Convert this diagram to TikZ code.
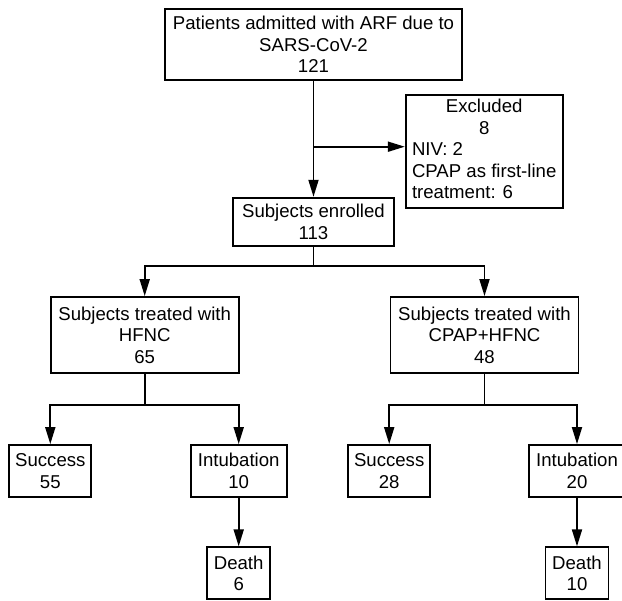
\documentclass[tikz,border=0pt]{standalone}
\usepackage{fontspec}
\setmainfont{Liberation Sans}
\usetikzlibrary{arrows.meta}

\begin{document}
\begin{tikzpicture}[x=1pt,y=-1pt,->,>={Triangle[length=17pt,width=10pt]},line width=1.8pt,
    box/.style={draw,align=center,inner sep=0pt,minimum height=52pt,font=\fontsize{18.6}{21.5}\selectfont}]
\useasboundingbox (0,0) rectangle (622,601);

\node[box,minimum width=297pt,minimum height=71pt] (admit) at (313.5,44.5) {Patients admitted with ARF due to\\SARS-CoV-2\\121};
\node[box,minimum width=157pt,minimum height=113pt] (excl) at (484.2,151.7) {%
    \begin{tabular}{@{}l@{}}
    \multicolumn{1}{@{}c@{}}{Excluded}\\
    \multicolumn{1}{@{}c@{}}{8}\\
    NIV: 2\\
    CPAP as first-line\\
    treatment: 6
    \end{tabular}};
\node[box,minimum width=161pt,minimum height=48pt] (enrolled) at (313.5,221.7) {Subjects enrolled\\113};

\node[box,minimum width=188pt,minimum height=76pt] (hfnc) at (144.7,335) {Subjects treated with\\HFNC\\65};
\node[box,minimum width=188pt,minimum height=76pt] (cpap) at (484.5,335) {Subjects treated with\\CPAP+HFNC\\48};

\node[box,minimum width=82pt] (hfnc-ok) at (50.3,471) {Success\\55};
\node[box,minimum width=96pt] (hfnc-int) at (238.7,471) {Intubation\\10};
\node[box,minimum width=63pt] (hfnc-death) at (238.7,573.3) {Death\\6};
\node[box,minimum width=82pt] (cpap-ok) at (389.2,471) {Success\\28};
\node[box,minimum width=96pt] (cpap-int) at (577,471) {Intubation\\20};
\node[box,minimum width=63pt] (cpap-death) at (577,573.3) {Death\\10};

\draw (admit) -- (enrolled);
\coordinate (split) at (313.5,146.7);
\draw (split) -- (split -| excl.west);
\foreach \t in {hfnc,cpap}{
    \draw (enrolled.south) -- ++(0,19.3) -| (\t.north);
    \draw (\t.south) -- ++(0,31) -| (\t-ok.north);
    \draw (\t.south) -- ++(0,31) -| (\t-int.north);
    \draw (\t-int) -- (\t-death);
}
\end{tikzpicture}
\end{document}
